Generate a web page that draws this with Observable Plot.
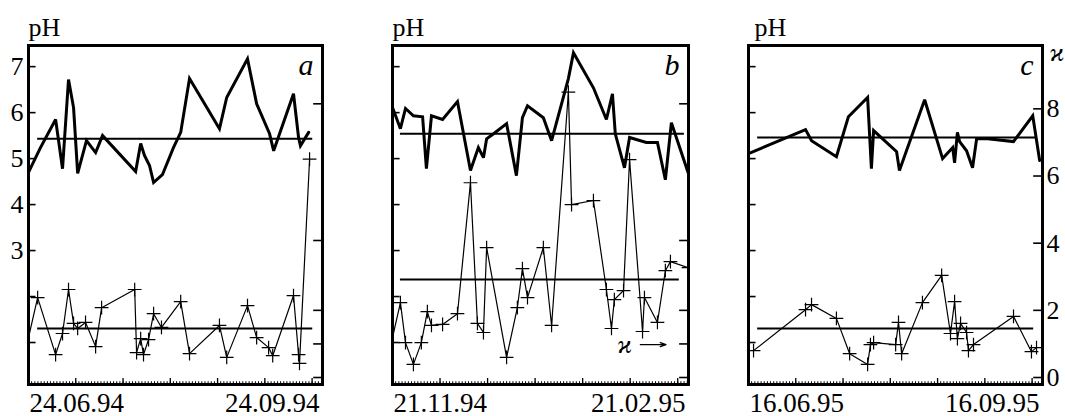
<!DOCTYPE html>
<html><head><meta charset="utf-8">
<script src="https://cdn.jsdelivr.net/npm/d3@7"></script>
<script src="https://cdn.jsdelivr.net/npm/@observablehq/plot@0.6"></script>
<style>
body{margin:0;background:#fff}
#wrap{position:relative;width:1065px;height:416px;overflow:hidden;background:#fff}
#wrap > svg{position:absolute;top:0}
#wrap svg, #wrap svg text{font-family:"Liberation Serif","Times New Roman","DejaVu Serif",serif !important}
</style></head><body><div id="wrap"></div>
<script>
// ---------- DATA ----------
const panelNames = ["a", "b", "c"];
const startDates = ["24.06.94", "21.11.94", "16.06.95"];
const endDates   = ["24.09.94", "21.02.95", "16.09.95"];

// days after the start date; pH values
const aPhDays = [0,3.8,8.6,10.8,12.7,14.3,15.6,18.4,21.3,23.5,34.0,35.6,36.8,38.4,39.7,42.5,46.0,48.3,51.1,60.6,62.9,69.5,72.4,76.5,77.8,84.1,85.7,86.3,88.9];
const aPh     = [4.70,5.24,5.85,4.78,6.72,6.11,4.68,5.39,5.13,5.50,4.72,5.33,5.07,4.85,4.48,4.65,5.24,5.57,6.74,5.65,6.33,7.17,6.19,5.54,5.17,6.41,5.46,5.28,5.57];
const aKDays  = [0,2.9,8.6,10.8,12.7,14.3,15.6,18.1,21.3,23.2,33.7,34.3,35.6,36.5,38.1,39.7,42.2,48.3,51.1,60.6,62.9,69.5,72.4,76.2,77.5,84.1,85.7,86.0,89.2];
const aK      = [1.19,2.38,0.68,1.31,2.62,1.61,1.46,1.64,0.92,2.08,2.62,0.74,1.16,0.68,1.13,1.90,1.49,2.26,0.71,1.55,0.60,2.14,1.19,0.89,0.65,2.44,0.68,0.42,6.50];

const bPhDays = [0,2.5,4.1,6.6,9.5,10.7,12.3,15.8,20.5,24.6,27.1,28.7,29.7,31.9,36.0,39.1,41.0,42.6,47.6,50.2,55.5,57.1,63.4,67.5,69.4,70.3,73.2,74.8,80.1,83.6,86.1,88.0,93.4];
const bPh     = [6.11,5.65,6.09,5.93,5.91,4.78,5.93,5.85,6.24,4.74,5.24,5.02,5.43,5.54,5.76,4.63,5.89,6.15,5.89,5.39,6.74,7.30,6.54,5.85,6.41,5.54,4.80,5.46,5.35,5.35,4.54,5.78,4.67];
const bKDays  = [0,2.5,4.1,6.6,9.1,11.0,12.3,15.8,20.5,24.6,26.8,28.7,29.7,36.0,39.4,41.0,42.6,47.6,50.2,55.5,56.5,63.4,67.5,69.1,70.0,72.9,74.8,78.9,79.5,83.6,86.1,87.7,93.4];
const bK      = [1.19,2.23,1.04,0.39,1.04,1.96,1.55,1.58,1.90,5.80,1.61,1.34,3.87,0.60,2.08,3.24,2.38,3.87,1.55,8.50,5.15,5.27,2.62,1.46,2.32,2.59,6.49,1.37,2.38,1.64,3.18,3.45,3.27];

const cPhDays = [0,18.1,20.0,27.9,31.7,37.8,39.0,39.7,47.0,47.9,55.9,61.6,64.8,65.4,66.3,67.0,69.2,71.1,72.4,75.9,84.1,90.2,92.4];
const cPh     = [5.11,5.63,5.39,5.04,5.91,6.33,4.78,5.61,5.15,4.74,6.28,5.00,5.24,4.91,5.57,5.37,5.17,4.80,5.43,5.43,5.37,5.93,4.96];
const cKDays  = [1.6,18.1,20.0,27.9,32.1,37.8,38.7,39.7,46.7,47.6,48.6,55.2,61.3,64.1,65.4,66.3,67.3,69.2,69.8,71.4,84.1,89.8,91.4];
const cK      = [0.80,2.02,2.17,1.76,0.71,0.39,0.98,1.04,0.98,1.64,0.71,2.23,3.04,1.31,2.26,1.16,1.61,1.34,0.80,0.98,1.82,0.77,0.89];

// which κ samples carry a "+" marker (series in a and b enter from the frame edge)
const firstMarked = [1, 1, 0];

// mean lines
const meanPH = [5.43, 5.54, 5.46];
const meanK  = [1.46, 2.92, 1.46];
const meanSpan = [[2.9, 90.2], [2.5, 92.1], [2.9, 91.1]];
const meanKSpan = [[2.9, 90.2], [2.5, 90.5], [2.9, 90.5]];
const spanDays = [93.3, 93.4, 93.3];

// axis ticks
const phTicks = [1, 2, 3, 4, 5, 6, 7];
const phLabels = [3, 4, 5, 6, 7];
const kTicksAB = [0, 1, 2, 4.08, 8.15];
const kTicksC = [0, 2, 4, 6, 8];
const kLabelsC = ["0", "2", "4", "6", "8"];
const kappaSymbol = "ϰ";

// ---------- CHART ----------
const kToPh = k => 0.239 + 0.7304 * k;   // right (κ) axis mapped onto the pH axis
const yDomain = [0.087, 7.46];
const FONT = "Liberation Serif";

const series = [
  [aPhDays, aPh, aKDays, aK],
  [bPhDays, bPh, bKDays, bK],
  [cPhDays, cPh, cKDays, cK]
];
const layout = [
  {left: 0,   width: 360, mL: 28, mR: 38},
  {left: 360, width: 355, mL: 32, mR: 27},
  {left: 715, width: 350, mL: 33, mR: 23}
];

const wrap = document.getElementById("wrap");

panelNames.forEach((name, p) => {
  const [phD, ph, kD, k] = series[p];
  const D = spanDays[p];
  const L = layout[p];
  const phData = phD.map((d, i) => ({x: d, y: ph[i]}));
  const kData = kD.map((d, i) => ({x: d, y: kToPh(k[i])}));
  const kMarked = kData.slice(firstMarked[p]);
  const kTicks = p === 2 ? kTicksC : kTicksAB;
  const T = {fontFamily: FONT};

  const marks = [
    // bottom minor / major ticks (pointing inward)
    Plot.ruleX(d3.range(1, Math.floor(D) + 1), {x: d => d, y1: () => yDomain[0], y2: () => yDomain[0] + 0.06, stroke: "#000", strokeWidth: 1}),
    Plot.ruleX(d3.range(15, D, 15), {x: d => d, y1: () => yDomain[0], y2: () => yDomain[0] + 0.13, stroke: "#000", strokeWidth: 1.3}),
    // left pH ticks
    Plot.ruleY(phTicks, {y: d => d, x1: () => 0, x2: () => 2.4, stroke: "#000", strokeWidth: 1.6}),
    // right κ ticks
    Plot.ruleY(kTicks, {y: d => kToPh(d), x1: () => D - 2.8, x2: () => D, stroke: "#000", strokeWidth: 1.6}),
    // mean lines
    Plot.ruleY([meanPH[p]], {y: d => d, x1: () => meanSpan[p][0], x2: () => meanSpan[p][1], stroke: "#000", strokeWidth: 2}),
    Plot.ruleY([meanK[p]], {y: d => kToPh(d), x1: () => meanKSpan[p][0], x2: () => meanKSpan[p][1], stroke: "#000", strokeWidth: 2}),
    // κ series
    Plot.line(kData, {x: "x", y: "y", stroke: "#000", strokeWidth: 1.2, clip: true}),
    Plot.dot(kMarked, {x: "x", y: "y", symbol: "plus", r: 4.5, stroke: "#000", strokeWidth: 1.2, clip: true}),
    // pH series
    Plot.line(phData, {x: "x", y: "y", stroke: "#000", strokeWidth: 3, strokeLinejoin: "miter", strokeMiterlimit: 3, clip: true}),
    Plot.frame({stroke: "#000", strokeWidth: 3}),
    // titles and labels
    Plot.text(["pH"], {...T, frameAnchor: "top-left", textAnchor: "start", lineAnchor: "bottom", dy: -10, dx: p === 2 ? 6 : 0, fontSize: 26}),
    Plot.text([name], {...T, frameAnchor: "top-right", textAnchor: "end", lineAnchor: "top", dx: -9, dy: 8, fontSize: 30, fontStyle: "italic"}),
    Plot.text([startDates[p]], {...T, frameAnchor: "bottom-left", textAnchor: "start", lineAnchor: "bottom", dy: 27, dx: 1, fontSize: 27}),
    Plot.text([endDates[p]], {...T, frameAnchor: "bottom-right", textAnchor: "end", lineAnchor: "bottom", dy: 27, dx: -3, fontSize: 27})
  ];
  if (p === 0) {
    marks.push(Plot.text(phLabels, {...T, y: d => d, text: d => String(d), frameAnchor: "left", textAnchor: "end", dx: -5, fontSize: 26}));
  }
  if (p === 2) {
    marks.push(Plot.text(kTicksC, {...T, y: d => kToPh(d), text: (d, i) => kLabelsC[i], frameAnchor: "right", textAnchor: "start", dx: 4, fontSize: 26}));
    marks.push(Plot.text([kappaSymbol], {...T, frameAnchor: "top-right", textAnchor: "start", lineAnchor: "middle", dx: 7, dy: 7, fontSize: 26, fontStyle: "italic"}));
  }
  if (p === 1) {
    const ky = kToPh(0.98);
    marks.push(Plot.text([kappaSymbol], {...T, x: () => 73.2, y: () => ky, fontSize: 26, fontStyle: "italic"}));
    marks.push(Plot.arrow([0], {x1: () => 78.2, x2: () => 86.3, y1: () => ky, y2: () => ky, stroke: "#000", strokeWidth: 1.3, headLength: 7, headAngle: 40}));
  }

  const svg = Plot.plot({
    width: L.width,
    height: 416,
    marginLeft: L.mL,
    marginRight: L.mR,
    marginTop: 45,
    marginBottom: 32,
    x: {domain: [0, D], axis: null},
    y: {domain: yDomain, axis: null},
    style: {fontFamily: FONT, fontSize: "24px", color: "#000", background: "transparent", overflow: "visible"},
    marks
  });
  svg.style.left = L.left + "px";
  wrap.appendChild(svg);
});
</script></body></html>
